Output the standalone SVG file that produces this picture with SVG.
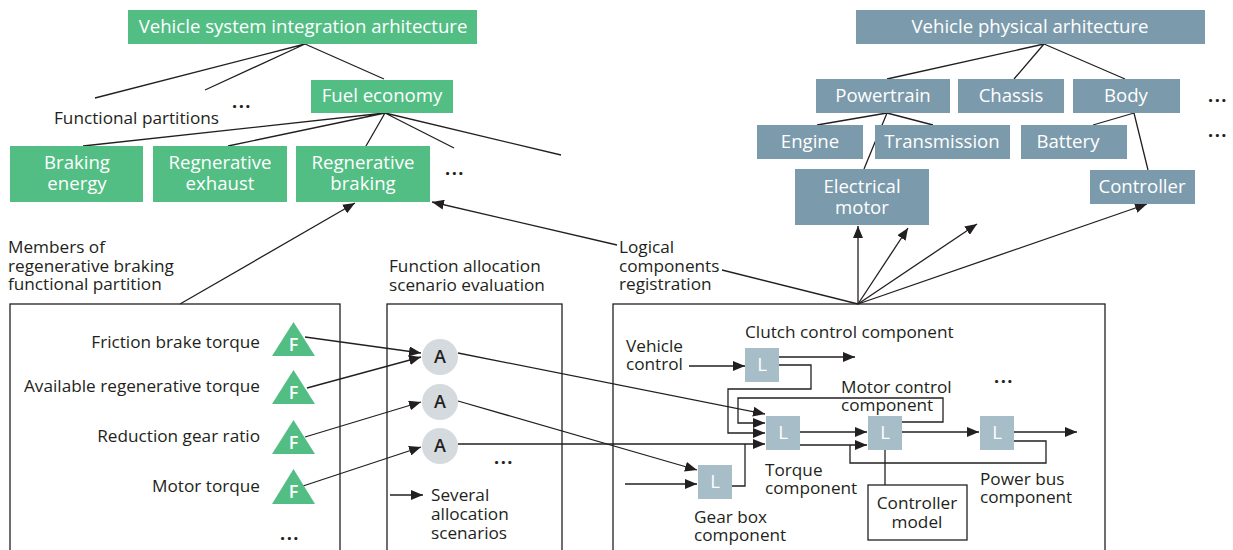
<svg xmlns="http://www.w3.org/2000/svg" width="1233" height="550" viewBox="0 0 1233 550">
  <style>
    .g { fill: #52be84; }
    .s { fill: #7b9aab; }
    .lb { fill: #a7bdc8; }
    .ac { fill: #d5dade; }
    .frame { fill: none; stroke: #231f20; stroke-width: 1.3; }
    .bt { font-family: "Open Sans", "Noto Sans", sans-serif; font-size: 18.6px; fill: #ffffff; text-anchor: middle; }
    .t { font-family: "Open Sans", "Noto Sans", sans-serif; font-size: 17.2px; fill: #231f20; }
    .r { text-anchor: end; }
    .m { text-anchor: middle; }
    .sym { font-family: "Open Sans", "Noto Sans", sans-serif; font-size: 18px; font-weight: 600; text-anchor: middle; }
    .ln { fill: none; stroke: #231f20; stroke-width: 1.3; }
    .ar { fill: none; stroke: #231f20; stroke-width: 1.3; marker-end: url(#ah); }
    .dots { font-family: "Open Sans", "Noto Sans", sans-serif; font-size: 18px; font-weight: 700; fill: #231f20; text-anchor: middle; letter-spacing: 1.5px; }
  </style>
  <defs>
    <marker id="ah" viewBox="0 0 12 10" refX="12" refY="5" markerWidth="12" markerHeight="10" markerUnits="userSpaceOnUse" orient="auto">
      <path d="M0,0 L12,5 L0,10 z" fill="#231f20"/>
    </marker>
  </defs>

  <!-- connectors -->
  <g id="connectors">
    <!-- functional hierarchy -->
    <path class="ln" d="M305,44 L95,98 M305,44 L205,90 M305,44 L384,79"/>
    <path class="ln" d="M385,113 L83,146 M385,113 L228,146 M385,113 L366,146 M385,113 L454,148 M385,113 L561,155"/>
    <!-- physical hierarchy -->
    <path class="ln" d="M1044,44 L887,79 M1044,44 L1014,79 M1044,44 L1125,79"/>
    <path class="ln" d="M887,113 L817,125 M887,113 L933,125 M887,113 L864,169"/>
    <path class="ln" d="M1134,113 L1093,125 M1134,113 L1148,170"/>
    <!-- partition members up to regenerative braking -->
    <path class="ar" d="M180,304 L355,203"/>
    <!-- logical components registration -->
    <path class="ar" d="M617,245 L432,202"/>
    <path class="ln" d="M722,270 L858,304"/>
    <path class="ar" d="M858,304 L858,226"/>
    <path class="ar" d="M858,304 L908,228"/>
    <path class="ar" d="M858,304 L977,224"/>
    <path class="ar" d="M858,304 L1147,204"/>
    <!-- functions to allocation scenarios -->
    <path class="ar" d="M305,337 L421,353"/>
    <path class="ar" d="M307,388 L421,357"/>
    <path class="ar" d="M305,437 L421,402"/>
    <path class="ar" d="M303,486 L421,447"/>
    <path class="ar" d="M390,495 L423,495"/>
    <!-- allocation scenarios to logical components -->
    <path class="ar" d="M458,353 L765,414"/>
    <path class="ar" d="M458,401 L697,470"/>
    <path class="ar" d="M458,444 L765,444"/>
    <!-- logical component wiring -->
    <path class="ar" d="M689,366 L745,366"/>
    <path class="ar" d="M779,357 L855,357"/>
    <path class="ar" d="M779,365 L811,365 L811,389 L728,389 L728,433 L765,433"/>
    <path class="ar" d="M902,422 L943,422 L943,398 L738,398 L738,423 L765,423"/>
    <path class="ar" d="M625,484 L697,484"/>
    <path class="ln" d="M732,486 L745,486 L745,444"/>
    <path class="ar" d="M800,432 L867,432"/>
    <path class="ar" d="M800,445 L867,445"/>
    <path class="ln" d="M1014,441 L1046,441 L1046,463 L850,463 L850,445"/>
    <path class="ln" d="M885,450 L885,485"/>
    <path class="ar" d="M902,432 L979,432"/>
    <path class="ar" d="M1014,432 L1077,432"/>
  </g>

  <!-- functional architecture -->
  <g id="vsia">
    <rect class="g" x="128" y="10" width="349" height="34"/>
    <text class="bt" x="303" y="33">Vehicle system integration arhitecture</text>
  </g>
  <g id="fuel-economy">
    <rect class="g" x="311" y="80" width="142" height="33"/>
    <text class="bt" x="382" y="102">Fuel economy</text>
  </g>
  <g id="functional-partitions">
    <text class="t" x="54" y="124">Functional partitions</text>
    <text class="dots" x="242" y="108">...</text>
  </g>
  <g id="braking-energy">
    <rect class="g" x="10" y="146" width="133" height="56"/>
    <text class="bt" x="77" y="169">Braking<tspan x="77" dy="21">energy</tspan></text>
  </g>
  <g id="regenerative-exhaust">
    <rect class="g" x="153" y="146" width="134" height="56"/>
    <text class="bt" x="220" y="169">Regnerative<tspan x="220" dy="21">exhaust</tspan></text>
  </g>
  <g id="regenerative-braking">
    <rect class="g" x="296" y="146" width="134" height="56"/>
    <text class="bt" x="363" y="169">Regnerative<tspan x="363" dy="21">braking</tspan></text>
  </g>
  <g id="partitions-more">
    <text class="dots" x="455" y="175">...</text>
  </g>

  <!-- physical architecture -->
  <g id="vpa">
    <rect class="s" x="856" y="10" width="349" height="34"/>
    <text class="bt" x="1030" y="33">Vehicle physical arhitecture</text>
  </g>
  <g id="powertrain">
    <rect class="s" x="816" y="79" width="134" height="34"/>
    <text class="bt" x="883" y="102">Powertrain</text>
  </g>
  <g id="chassis">
    <rect class="s" x="958" y="79" width="106" height="34"/>
    <text class="bt" x="1011" y="102">Chassis</text>
  </g>
  <g id="body">
    <rect class="s" x="1073" y="79" width="107" height="34"/>
    <text class="bt" x="1126" y="102">Body</text>
  </g>
  <g id="physical-more">
    <text class="dots" x="1218" y="102">...</text>
    <text class="dots" x="1218" y="137">...</text>
  </g>
  <g id="engine">
    <rect class="s" x="757" y="125" width="106" height="34"/>
    <text class="bt" x="810" y="148">Engine</text>
  </g>
  <g id="transmission">
    <rect class="s" x="875" y="125" width="135" height="34"/>
    <text class="bt" x="942" y="148">Transmission</text>
  </g>
  <g id="battery">
    <rect class="s" x="1021" y="125" width="106" height="34"/>
    <text class="bt" x="1068" y="148">Battery</text>
  </g>
  <g id="electrical-motor">
    <rect class="s" x="795" y="169" width="134" height="56"/>
    <text class="bt" x="862" y="193">Electrical<tspan x="862" dy="21">motor</tspan></text>
  </g>
  <g id="controller">
    <rect class="s" x="1090" y="170" width="105" height="34"/>
    <text class="bt" x="1142" y="193">Controller</text>
  </g>

  <!-- regenerative braking partition members -->
  <g id="members">
    <text class="t" x="8" y="253">Members of<tspan x="8" dy="18.5">regenerative braking</tspan><tspan x="8" dy="18.5">functional partition</tspan></text>
    <rect class="frame" x="10" y="304" width="330" height="260"/>
  </g>
  <g id="f-friction">
    <path class="g" d="M293.5,322 L315,356 L272,356 z"/>
    <text class="sym" x="293.5" y="351" fill="#ffffff">F</text>
    <text class="t r" x="260" y="348">Friction brake torque</text>
  </g>
  <g id="f-available">
    <path class="g" d="M293.5,370 L315,404 L272,404 z"/>
    <text class="sym" x="293.5" y="399" fill="#ffffff">F</text>
    <text class="t r" x="260" y="392">Available regenerative torque</text>
  </g>
  <g id="f-reduction">
    <path class="g" d="M293.5,420 L315,454 L272,454 z"/>
    <text class="sym" x="293.5" y="449" fill="#ffffff">F</text>
    <text class="t r" x="260" y="442">Reduction gear ratio</text>
  </g>
  <g id="f-motor">
    <path class="g" d="M293.5,469 L315,504 L272,504 z"/>
    <text class="sym" x="293.5" y="498" fill="#ffffff">F</text>
    <text class="t r" x="260" y="492">Motor torque</text>
  </g>
  <g id="members-more">
    <text class="dots" x="290" y="540">...</text>
  </g>

  <!-- function allocation scenario evaluation -->
  <g id="allocation">
    <text class="t" x="389" y="272">Function allocation<tspan x="389" dy="18.5">scenario evaluation</tspan></text>
    <rect class="frame" x="387" y="304" width="175" height="260"/>
  </g>
  <g id="a1">
    <circle class="ac" cx="440" cy="357" r="18"/>
    <text class="sym" x="440" y="363" fill="#231f20">A</text>
  </g>
  <g id="a2">
    <circle class="ac" cx="440" cy="402" r="18"/>
    <text class="sym" x="440" y="408" fill="#231f20">A</text>
  </g>
  <g id="a3">
    <circle class="ac" cx="440" cy="446" r="18"/>
    <text class="sym" x="440" y="452" fill="#231f20">A</text>
  </g>
  <g id="allocation-more">
    <text class="dots" x="504" y="464">...</text>
    <text class="t" x="431" y="501">Several<tspan x="431" dy="19">allocation</tspan><tspan x="431" dy="19">scenarios</tspan></text>
  </g>

  <!-- logical components -->
  <g id="logical">
    <text class="t" x="619" y="253">Logical<tspan x="619" dy="18.5">components</tspan><tspan x="619" dy="18.5">registration</tspan></text>
    <rect class="frame" x="613" y="304" width="492" height="260"/>
    <text class="t" x="626" y="352">Vehicle<tspan x="626" dy="18">control</tspan></text>
    <text class="dots" x="1004" y="383">...</text>
  </g>
  <g id="clutch">
    <rect class="lb" x="745" y="348" width="34" height="34"/>
    <text class="bt" x="762" y="371">L</text>
    <text class="t" x="745" y="338">Clutch control component</text>
  </g>
  <g id="torque">
    <rect class="lb" x="766" y="416" width="34" height="34"/>
    <text class="bt" x="783" y="439">L</text>
    <text class="t" x="765" y="476">Torque<tspan x="765" dy="18">component</tspan></text>
  </g>
  <g id="motor-control">
    <rect class="lb" x="868" y="416" width="34" height="34"/>
    <text class="bt" x="885" y="439">L</text>
    <text class="t" x="841" y="393">Motor control<tspan x="841" dy="18">component</tspan></text>
  </g>
  <g id="power-bus">
    <rect class="lb" x="980" y="416" width="34" height="34"/>
    <text class="bt" x="997" y="439">L</text>
    <text class="t" x="980" y="485">Power bus<tspan x="980" dy="18">component</tspan></text>
  </g>
  <g id="gear-box">
    <rect class="lb" x="698" y="465" width="34" height="34"/>
    <text class="bt" x="715" y="488">L</text>
    <text class="t" x="694" y="523">Gear box<tspan x="694" dy="18">component</tspan></text>
  </g>
  <g id="controller-model">
    <rect class="frame" x="868" y="485" width="99" height="55"/>
    <text class="t m" x="917" y="509">Controller<tspan x="917" dy="19">model</tspan></text>
  </g>
</svg>
